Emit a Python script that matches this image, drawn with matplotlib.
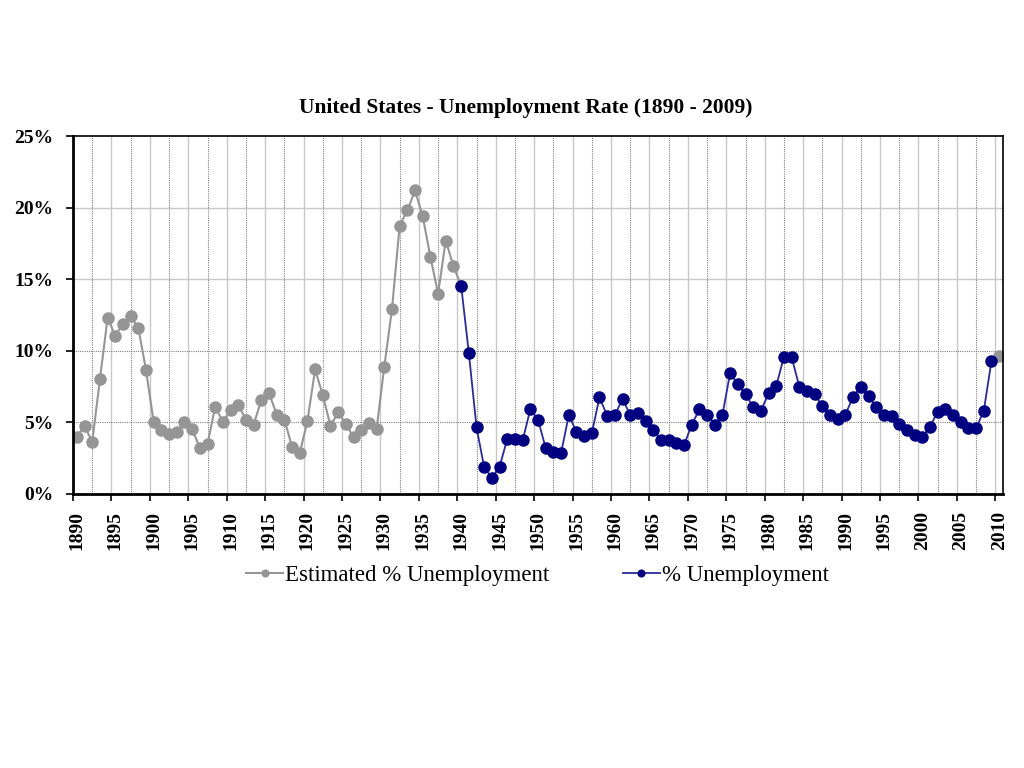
import numpy as np
import matplotlib
matplotlib.use("Agg")
import matplotlib.pyplot as plt
from matplotlib.ticker import FuncFormatter

years = np.arange(1890, 2011)

# estimated values 1890-1940, plus the 2010 estimate
est_years = list(range(1890, 1941)) + [2010]
est_vals = [4.0, 4.75, 3.65, 8.0, 12.3, 11.05, 11.9, 12.4, 11.6, 8.65,
            5.0, 4.5, 4.2, 4.3, 5.0, 4.55, 3.2, 3.5, 6.1, 5.05,
            5.85, 6.2, 5.2, 4.85, 6.55, 7.05, 5.55, 5.2, 3.3, 2.85,
            5.1, 8.7, 6.9, 4.75, 5.7, 4.9, 3.95, 4.45, 4.95, 4.55,
            8.9, 12.9, 18.75, 19.8, 21.2, 19.4, 16.55, 14.0, 17.7, 15.9,
            14.55, 9.65]

unemp_years = list(range(1940, 2010))
unemp_vals = [14.55, 9.85, 4.65, 1.85, 1.15, 1.9, 3.85, 3.85, 3.75, 5.9,
              5.2, 3.2, 2.9, 2.85, 5.5, 4.35, 4.05, 4.25, 6.75, 5.45,
              5.5, 6.65, 5.5, 5.65, 5.1, 4.5, 3.75, 3.75, 3.55, 3.4,
              4.85, 5.9, 5.55, 4.85, 5.55, 8.45, 7.65, 7.0, 6.05, 5.8,
              7.05, 7.55, 9.6, 9.55, 7.5, 7.2, 6.95, 6.15, 5.5, 5.25,
              5.55, 6.8, 7.5, 6.85, 6.05, 5.55, 5.45, 4.9, 4.45, 4.15,
              4.0, 4.7, 5.75, 5.95, 5.5, 5.05, 4.6, 4.6, 5.8, 9.3]

# put both series on the full category range, blanks -> gaps
est = np.full(len(years), np.nan)
for y, v in zip(est_years, est_vals):
    est[y - 1890] = v
une = np.full(len(years), np.nan)
for y, v in zip(unemp_years, unemp_vals):
    une[y - 1890] = v

serif = "Liberation Serif"
gray = "#959595"
navy = "#000080"

fig = plt.figure(figsize=(10.24, 7.68), dpi=100)
ax = fig.add_axes([0.0713, 0.3568, 0.9082, 0.4661])

# gridlines: solid light at ticks, dotted in between
for k in range(49):
    x = 1889.5 + 2.5 * k
    if k % 2 == 0:
        ax.axvline(x, color="#c8c8c8", lw=1.0, zorder=0)
    else:
        ax.axvline(x, color="#808080", lw=0.8, ls=(0, (1, 1)), zorder=0)
for yv, solid in [(5, False), (10, False), (15, True), (20, True)]:
    if solid:
        ax.axhline(yv, color="#c8c8c8", lw=1.0, zorder=0)
    else:
        ax.axhline(yv, color="#808080", lw=0.8, ls=(0, (1, 1)), zorder=0)

ax.plot(years, est, color=gray, lw=1.5, marker="o", ms=8, mfc=gray, mec=gray,
        label="Estimated % Unemployment", zorder=2)
ax.plot(years, une, color="#2a2a9a", lw=1.3, marker="o", ms=8, mfc=navy,
        mec=navy, label="% Unemployment", zorder=3)

ax.set_xlim(1889.5, 2010.5)
ax.set_ylim(0, 25)
ax.set_yticks([0, 5, 10, 15, 20, 25])
ax.yaxis.set_major_formatter(FuncFormatter(lambda v, p: "%d%%" % v))
for lab in ax.get_yticklabels():
    lab.set_fontfamily(serif)
    lab.set_fontweight("bold")
    lab.set_fontsize(14)

# ticks between categories, labels on categories
ax.set_xticks(np.arange(1889.5, 2011, 5))
ax.set_xticklabels([])
ax.set_xticks(np.arange(1890, 2011, 5), minor=True)
ax.set_xticklabels([str(y) for y in range(1890, 2011, 5)], minor=True,
                   rotation=90, fontfamily=serif, fontweight="bold",
                   fontsize=14)
ax.tick_params(axis="x", which="minor", length=0, pad=12)
ax.tick_params(axis="x", which="major", direction="out", length=5, width=1.2)
ax.tick_params(axis="y", direction="out", length=5, width=1.2, pad=9)

for s in ax.spines.values():
    s.set_color("black")
    s.set_linewidth(1.2)
ax.spines["left"].set_linewidth(2)
ax.spines["bottom"].set_linewidth(2)

fig.text(0.513, 0.859, "United States - Unemployment Rate (1890 - 2009)",
         ha="center", va="center", fontfamily=serif, fontweight="bold",
         fontsize=15.5)

fig.legend(loc="center", bbox_to_anchor=(0.525, 0.251), ncol=2, frameon=False,
           prop={"family": serif, "size": 16.5}, handlelength=1.6,
           handletextpad=0.1, columnspacing=3.2, markerscale=0.6)

fig.savefig("out.png", dpi=100)
